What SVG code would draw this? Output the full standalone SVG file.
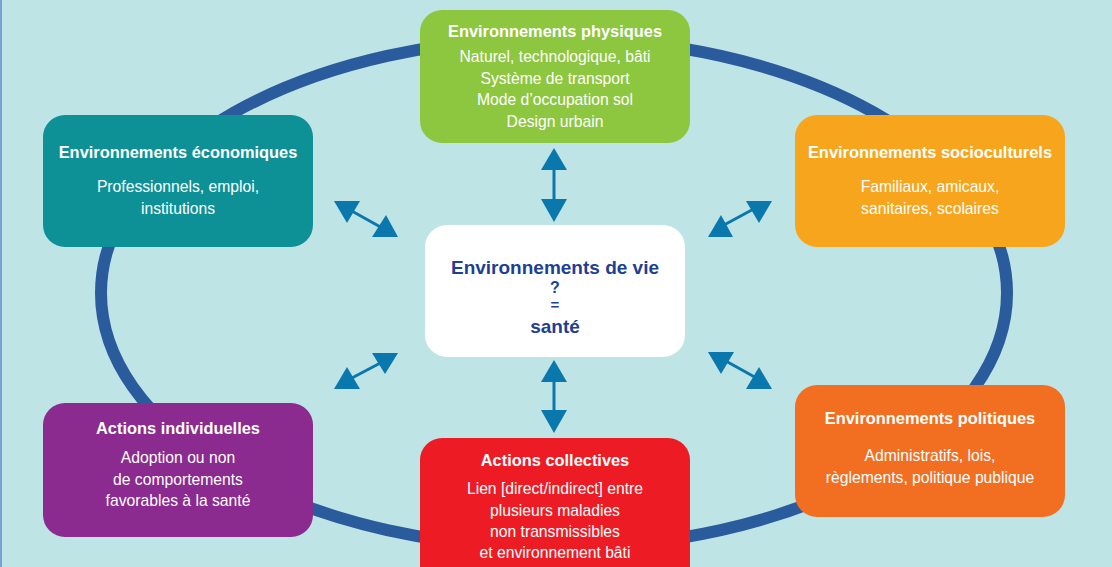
<svg xmlns="http://www.w3.org/2000/svg" width="1112" height="567" viewBox="0 0 1112 567">
<style>
.t{font-family:"Liberation Sans Narrow","Liberation Sans",Arial,sans-serif;fill:#fff;text-anchor:middle}
.h{font-weight:bold;font-size:16.4px}
.b{font-size:15.7px}
.c{font-family:"Liberation Sans",Arial,sans-serif;font-weight:bold;font-size:19px;fill:#1f3f94;text-anchor:middle}
.ar{fill:#0a78ad}
.ln{stroke:#0a78ad;stroke-width:3}
</style>
<rect x="0" y="0" width="1112" height="567" fill="#bee4e6"/>
<rect x="0" y="0" width="2" height="567" fill="#7b9fd4"/>
<ellipse cx="554" cy="293" rx="453" ry="255" fill="none" stroke="#2a5b9c" stroke-width="12"/>
<g id="connectors">
 <line class="ln" x1="554" y1="165" x2="554" y2="203"/>
 <polygon class="ar" points="554,148 541,170 567,170"/>
 <polygon class="ar" points="554,222 541,199 567,199"/>
 <line class="ln" x1="554" y1="378" x2="554" y2="415"/>
 <polygon class="ar" points="554,360 541,382 567,382"/>
 <polygon class="ar" points="554,433 541,410 567,410"/>
 <line class="ln" x1="350" y1="210" x2="384" y2="229"/>
 <polygon class="ar" points="334,201 360,201 347,223"/>
 <polygon class="ar" points="386,215 372,237 398,237"/>
 <line class="ln" x1="724" y1="225" x2="761" y2="205"/>
 <polygon class="ar" points="746,201 772,201 759,223"/>
 <polygon class="ar" points="721,215 708,237 733,237"/>
 <line class="ln" x1="350" y1="379" x2="386" y2="360"/>
 <polygon class="ar" points="372,353 398,353 385,374"/>
 <polygon class="ar" points="347,367 334,389 360,389"/>
 <line class="ln" x1="724" y1="360" x2="760" y2="380"/>
 <polygon class="ar" points="708,352 734,352 721,374"/>
 <polygon class="ar" points="759,367 746,389 772,389"/>
</g>
<g id="physiques">
 <rect x="420" y="10" width="270" height="133" rx="22" fill="#8dc63f"/>
 <text class="t h" x="555" y="37">Environnements physiques</text>
 <text class="t b" x="555" y="62">Naturel, technologique, bâti</text>
 <text class="t b" x="555" y="84">Système de transport</text>
 <text class="t b" x="555" y="105">Mode d’occupation sol</text>
 <text class="t b" x="555" y="127">Design urbain</text>
</g>
<g id="economiques">
 <rect x="43" y="115" width="270" height="132" rx="22" fill="#0e9196"/>
 <text class="t h" x="178" y="158">Environnements économiques</text>
 <text class="t b" x="178" y="192">Professionnels, emploi,</text>
 <text class="t b" x="178" y="214">institutions</text>
</g>
<g id="socioculturels">
 <rect x="795" y="115" width="270" height="132" rx="22" fill="#f7a51d"/>
 <text class="t h" x="930" y="158">Environnements socioculturels</text>
 <text class="t b" x="930" y="192">Familiaux, amicaux,</text>
 <text class="t b" x="930" y="214">sanitaires, scolaires</text>
</g>
<g id="centre">
 <rect x="425" y="225" width="260" height="132" rx="22" fill="#fff"/>
 <text class="c" x="555" y="274">Environnements de vie</text>
 <text class="c" x="555" y="293" style="font-size:16px">?</text>
 <text class="c" x="555" y="310" style="font-size:15px">=</text>
 <text class="c" x="555" y="333">santé</text>
</g>
<g id="individuelles">
 <rect x="43" y="403" width="270" height="134" rx="22" fill="#8b2a8f"/>
 <text class="t h" x="178" y="434">Actions individuelles</text>
 <text class="t b" x="178" y="463">Adoption ou non</text>
 <text class="t b" x="178" y="485">de comportements</text>
 <text class="t b" x="178" y="506">favorables à la santé</text>
</g>
<g id="collectives">
 <rect x="420" y="438" width="270" height="150" rx="22" fill="#ed1c24"/>
 <text class="t h" x="555" y="466">Actions collectives</text>
 <text class="t b" x="555" y="494">Lien [direct/indirect] entre</text>
 <text class="t b" x="555" y="516">plusieurs maladies</text>
 <text class="t b" x="555" y="537">non transmissibles</text>
 <text class="t b" x="555" y="558">et environnement bâti</text>
</g>
<g id="politiques">
 <rect x="795" y="385" width="270" height="132" rx="22" fill="#f26f21"/>
 <text class="t h" x="930" y="424">Environnements politiques</text>
 <text class="t b" x="930" y="461">Administratifs, lois,</text>
 <text class="t b" x="930" y="483">règlements, politique publique</text>
</g>
</svg>
